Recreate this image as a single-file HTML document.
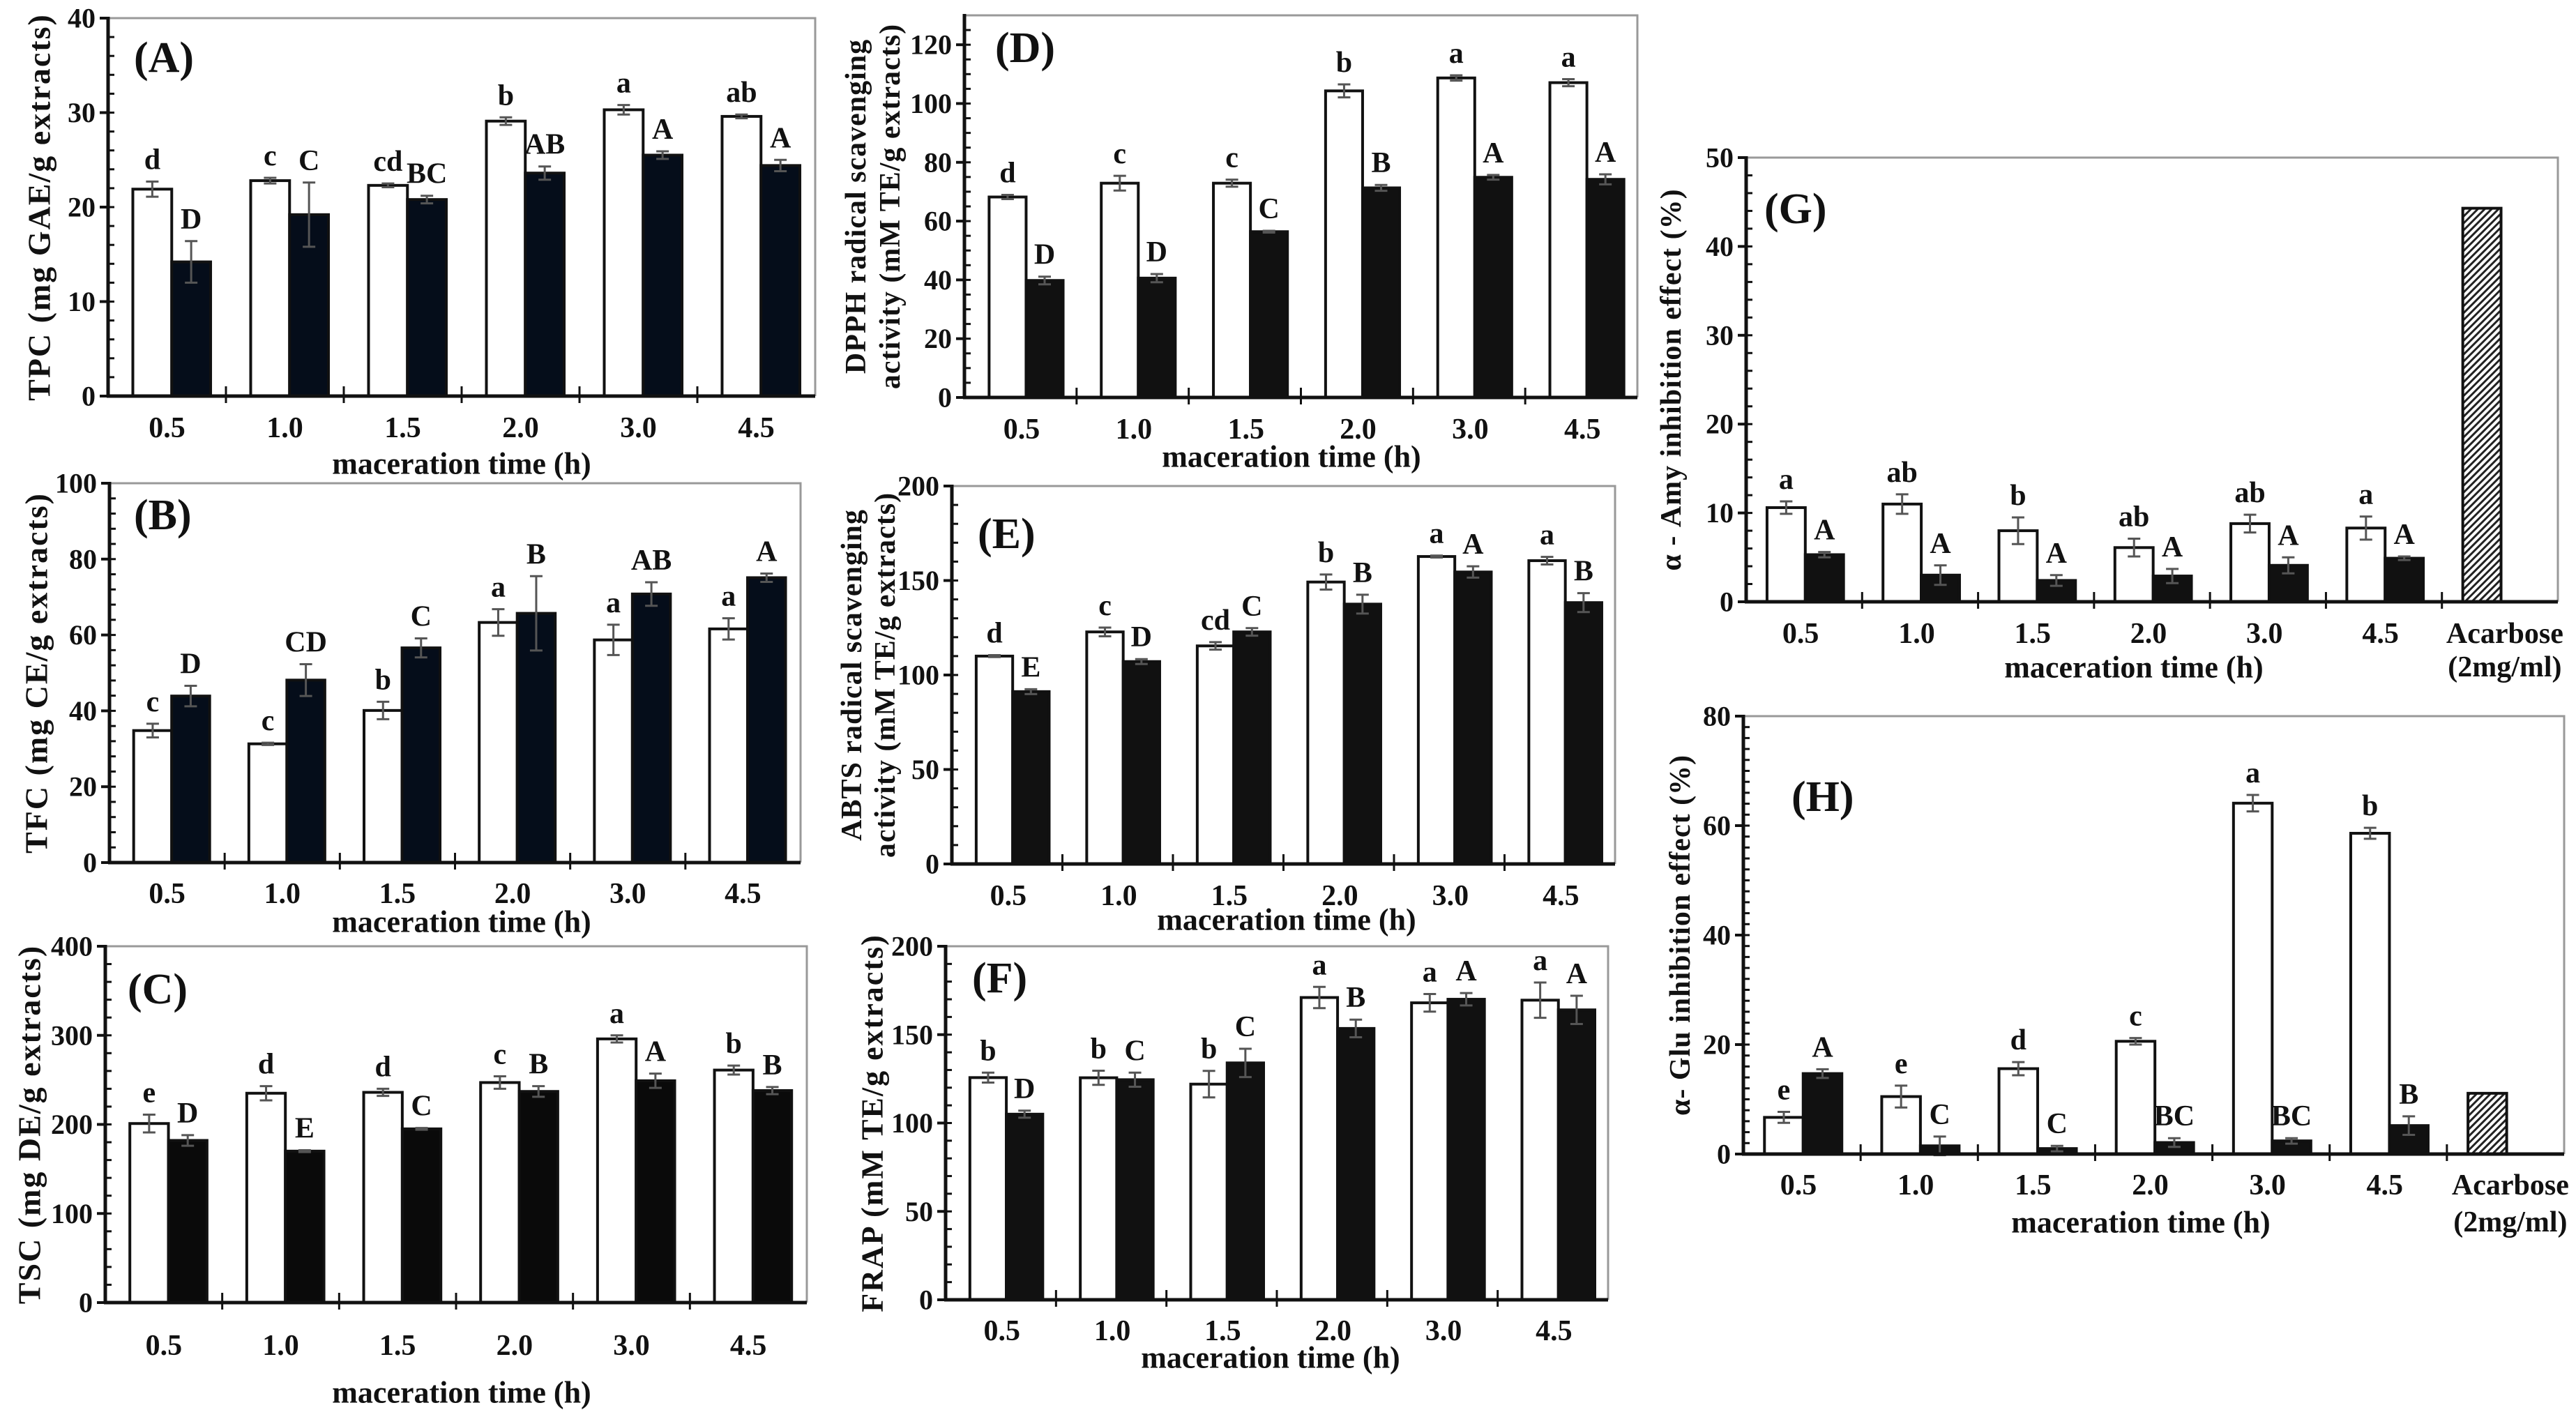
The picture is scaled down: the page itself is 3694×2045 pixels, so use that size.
<!DOCTYPE html>
<html><head><meta charset="utf-8">
<style>
html,body{margin:0;padding:0;background:#fff;}
svg{display:block;}
text{font-family:"Liberation Serif",serif;font-weight:bold;fill:#111;}
</style></head>
<body>
<svg id="fig" width="3694" height="2045" viewBox="0 0 3694 2045" xmlns="http://www.w3.org/2000/svg">
<defs>
<pattern id="hatch" patternUnits="userSpaceOnUse" width="7" height="7" patternTransform="rotate(45)">
<rect width="7" height="7" fill="#fff"/><rect width="3" height="7" fill="#222"/>
</pattern>
</defs>
</svg>
<script>
const groups = ["0.5","1.0","1.5","2.0","3.0","4.5"];
// A
const aWhite=[21.9,22.8,22.3,29.1,30.3,29.6], aWhiteErr=[0.8,0.3,0.2,0.4,0.5,0.2];
const aBlack=[14.2,19.2,20.8,23.6,25.5,24.4], aBlackErr=[2.2,3.4,0.4,0.7,0.4,0.6];
const aWL=["d","c","cd","b","a","ab"], aBL=["D","C","BC","AB","A","A"];
const aTicks=[0,10,20,30,40];
// B
const bWhite=[34.8,31.3,40.1,63.3,58.7,61.6], bWhiteErr=[1.8,0.3,2.3,3.5,4,2.8];
const bBlack=[43.9,48.1,56.6,65.7,70.8,75.1], bBlackErr=[2.7,4.2,2.5,9.8,3.1,1.1];
const bWL=["c","c","b","a","a","a"], bBL=["D","CD","C","B","AB","A"];
const bTicks=[0,20,40,60,80,100];
// C
const cWhite=[201,235,236,247,296,261], cWhiteErr=[10,8,4,7,4,5];
const cBlack=[182,170,195,237,249,238], cBlackErr=[6,1,1,6,8,4];
const cWL=["e","d","d","c","a","b"], cBL=["D","E","C","B","A","B"];
const cTicks=[0,100,200,300,400];
// D
const dWhite=[68.2,72.9,72.9,104.3,108.7,107.1], dWhiteErr=[0.7,2.5,1.2,2.2,0.9,1.2];
const dBlack=[39.8,40.6,56.4,71.3,74.9,74.2], dBlackErr=[1.3,1.4,0.3,1,0.8,1.7];
const dWL=["d","c","c","b","a","a"], dBL=["D","D","C","B","A","A"];
const dTicks=[0,20,40,60,80,100,120];
// E
const eWhite=[110,122.8,115.4,149.2,162.7,160.5], eWhiteErr=[0.5,2.3,2,4,0.5,2];
const eBlack=[91.2,107.1,122.8,137.5,154.5,138.3], eBlackErr=[1.3,1.3,2,5,3,5];
const eWL=["d","c","cd","b","a","a"], eBL=["E","D","C","B","A","B"];
const eTicks=[0,50,100,150,200];
// F
const fWhite=[125.7,125.6,122,171,168,169.5], fWhiteErr=[2.8,4,7.5,6,5,10];
const fBlack=[105,124.5,134,153.5,170,164], fBlackErr=[2,4,8,5,3.5,8];
const fWL=["b","b","b","a","a","a"], fBL=["D","C","C","B","A","A"];
const fTicks=[0,50,100,150,200];
// G
const gWhite=[10.6,11,8,6.1,8.8,8.3], gWhiteErr=[0.7,1.1,1.5,1,1,1.3];
const gBlack=[5.3,3,2.4,2.9,4.1,4.9], gBlackErr=[0.3,1.1,0.6,0.8,0.9,0.2];
const gWL=["a","ab","b","ab","ab","a"], gBL=["A","A","A","A","A","A"];
const gAcarbose=44.3;
const gTicks=[0,10,20,30,40,50];
// H
const hWhite=[6.7,10.5,15.6,20.6,64.1,58.6], hWhiteErr=[1,2,1.2,0.6,1.5,1];
const hBlack=[14.7,1.5,1,2.1,2.4,5.2], hBlackErr=[0.8,1.7,0.5,0.8,0.5,1.7];
const hWL=["e","e","d","c","a","b"], hBL=["A","C","C","BC","BC","B"];
const hAcarbose=11.1;
const hTicks=[0,20,40,60,80];

const svg=document.getElementById('fig');
const NS="http://www.w3.org/2000/svg";
function mk(tag,attrs,parent){const e=document.createElementNS(NS,tag);for(const k in attrs)e.setAttribute(k,attrs[k]);(parent||svg).appendChild(e);return e;}
function txt(s,attrs,parent){const e=mk('text',attrs,parent);e.textContent=s;return e;}

function panel(p){
  const g=mk('g',{});
  
  
  const nG=p.acarbose!==undefined?7:6;
  const gw=(p.x1-p.x0)/nG;
  const ys=v=>p.y0-(v-0)/p.ymax*(p.y0-p.y1);
  const fr=mk('polyline',{points:`${p.x0},${p.y1} ${p.x1},${p.y1} ${p.x1},${p.y0}`,fill:'none',stroke:'#999','stroke-width':3},g);
  
  
  for(let v=p.minor;v<p.ymax;v+=p.minor){mk('line',{x1:p.x0,x2:p.x0+9,y1:ys(v),y2:ys(v),stroke:'#111','stroke-width':3},g);}
  p.ticks.forEach(t=>{
    mk('line',{x1:p.x0-12,x2:p.x0,y1:ys(t),y2:ys(t),stroke:'#111','stroke-width':4},g);
    const tl=txt(String(t),{x:p.x0-18,y:ys(t),'text-anchor':'end','dominant-baseline':'central','font-size':40},g);
    
    
  });
  for(let i=1;i<nG;i++){const x=p.x0+gw*i;mk('line',{x1:x,x2:x,y1:p.y0-14,y2:p.y0+10,stroke:'#111','stroke-width':3},g);}
  const bw=gw*0.33;
  function bar(i,v,e,fill,off,letter,name){
    const x=p.x0+gw*i+gw*off;
    const r=mk('rect',{x:x,y:ys(v),width:bw,height:p.y0-ys(v),fill:fill,stroke:'#111','stroke-width':4},g);
    
    
    const cx=x+bw/2;
    let top=ys(v);
    if(e!==null){
      const t=ys(v+e),b=ys(v-e);top=t;
      mk('line',{x1:cx,x2:cx,y1:t,y2:b,stroke:'#555','stroke-width':3},g);
      mk('line',{x1:cx-9,x2:cx+9,y1:t,y2:t,stroke:'#555','stroke-width':3},g);
      mk('line',{x1:cx-9,x2:cx+9,y1:b,y2:b,stroke:'#555','stroke-width':3},g);
    }
    if(letter){
      const l=txt(letter,{x:cx,y:top-18,'text-anchor':'middle','font-size':42},g);
      
      
    }
  }
  for(let i=0;i<6;i++){
    bar(i,p.white[i],p.whiteErr[i],'#fff',p.off,p.wl[i],'bar-white-'+groups[i]);
    bar(i,p.black[i],p.blackErr[i],p.blackFill,p.off+0.33,p.bl[i],'bar-black-'+groups[i]);
  }
  if(p.acarbose!==undefined){bar(6,p.acarbose,null,'url(#hatch)',p.off,null,'bar-acarbose');}
  mk('line',{x1:p.x0,x2:p.x0,y1:p.y1-2,y2:p.y0,stroke:'#111','stroke-width':5},g);
  mk('line',{x1:p.x0-2,x2:p.x1,y1:p.y0,y2:p.y0,stroke:'#111','stroke-width':5},g);
  groups.forEach((s,i)=>{
    const l=txt(s,{x:p.x0+gw*(i+0.5)+gw*(p.off-0.21),y:p.xly,'text-anchor':'middle','dominant-baseline':'central','font-size':42},g);
    
    
  });
  if(p.acarbose!==undefined){
    const cx=p.x0+gw*6.5+gw*(p.off-0.21)+12;
    const a1=txt("Acarbose",{x:cx,y:p.xly,'text-anchor':'middle','dominant-baseline':'central','font-size':42},g);
    
    
    txt("(2mg/ml)",{x:cx,y:p.xty,'text-anchor':'middle','dominant-baseline':'central','font-size':42},g);
  }
  const xt=txt("maceration time (h)",{x:p.xtx,y:p.xty,'text-anchor':'middle','dominant-baseline':'central','font-size':44},g);
  
  
  const ycy=(p.y0+p.y1)/2+p.ytOff;
  p.ytitle.forEach((s,k)=>{
    const yt=txt(s,{x:0,y:0,'text-anchor':'middle','dominant-baseline':'central','font-size':p.ytSize,transform:`translate(${p.ytx[k]},${ycy}) rotate(-90)`,'letter-spacing':p.ls||0},g);
    
    
  });
  const pl=txt('('+p.id+')',{x:p.lx,y:p.ly,'dominant-baseline':'central','font-size':62},g);
  
  
}

panel({id:'A',x0:155,x1:1169,y0:568,y1:26,ymax:40,minor:2,ticks:aTicks,white:aWhite,whiteErr:aWhiteErr,black:aBlack,blackErr:aBlackErr,wl:aWL,bl:aBL,blackFill:'#050d1a',off:0.21,xly:614,xty:665,xtx:662,ytitle:["TPC (mg GAE/g extracts)"],ytx:[56],ytSize:46,ytOff:0,ls:2,lx:192,ly:83});
panel({id:'B',x0:157,x1:1148,y0:1237,y1:693,ymax:100,minor:4,ticks:bTicks,white:bWhite,whiteErr:bWhiteErr,black:bBlack,blackErr:bBlackErr,wl:bWL,bl:bBL,blackFill:'#050d1a',off:0.21,xly:1282,xty:1322,xtx:662,ytitle:["TFC (mg CE/g extracts)"],ytx:[52],ytSize:46,ytOff:0,ls:2,lx:192,ly:739});
panel({id:'C',x0:151,x1:1157,y0:1868,y1:1357,ymax:400,minor:20,ticks:cTicks,white:cWhite,whiteErr:cWhiteErr,black:cBlack,blackErr:cBlackErr,wl:cWL,bl:cBL,blackFill:'#0a0a0a',off:0.21,xly:1930,xty:1997,xtx:662,ytitle:["TSC (mg DE/g extracts)"],ytx:[42],ytSize:46,ytOff:0,ls:2,lx:183,ly:1419});
panel({id:'D',x0:1383,x1:2348,y0:570,y1:22,ymax:130,minor:5,ticks:dTicks,white:dWhite,whiteErr:dWhiteErr,black:dBlack,blackErr:dBlackErr,wl:dWL,bl:dBL,blackFill:'#111',off:0.22,xly:616,xty:655,xtx:1852,ytitle:["DPPH radical scavenging","activity (mM TE/g extracts)"],ytx:[1228,1277],ytSize:42,ytOff:0,ls:1,lx:1427,ly:69});
panel({id:'E',x0:1365,x1:2316,y0:1239,y1:697,ymax:200,minor:10,ticks:eTicks,white:eWhite,whiteErr:eWhiteErr,black:eBlack,blackErr:eBlackErr,wl:eWL,bl:eBL,blackFill:'#111',off:0.22,xly:1285,xty:1319,xtx:1845,ytitle:["ABTS radical scavenging","activity (mM TE/g extracts)"],ytx:[1222,1270],ytSize:42,ytOff:0,ls:1,lx:1402,ly:766});
panel({id:'F',x0:1356,x1:2306,y0:1864,y1:1357,ymax:200,minor:10,ticks:fTicks,white:fWhite,whiteErr:fWhiteErr,black:fBlack,blackErr:fBlackErr,wl:fWL,bl:fBL,blackFill:'#111',off:0.22,xly:1909,xty:1947,xtx:1822,ytitle:["FRAP (mM TE/g extracts)"],ytx:[1251],ytSize:44,ytOff:0,ls:2,lx:1394,ly:1403});
panel({id:'G',x0:2504,x1:3668,y0:863,y1:226,ymax:50,minor:2,ticks:gTicks,white:gWhite,whiteErr:gWhiteErr,black:gBlack,blackErr:gBlackErr,wl:gWL,bl:gBL,blackFill:'#111',off:0.18,acarbose:gAcarbose,xly:909,xty:957,xtx:3060,ytitle:["α - Amy inhibition effect (%)"],ytx:[2397],ytSize:42,ytOff:0,ls:1,lx:2530,ly:300});
panel({id:'H',x0:2500,x1:3677,y0:1655,y1:1027,ymax:80,minor:2,ticks:hTicks,white:hWhite,whiteErr:hWhiteErr,black:hBlack,blackErr:hBlackErr,wl:hWL,bl:hBL,blackFill:'#111',off:0.18,acarbose:hAcarbose,xly:1700,xty:1753,xtx:3070,ytitle:["α- Glu inhibition effect (%)"],ytx:[2410],ytSize:42,ytOff:0,ls:1,lx:2569,ly:1143});
</script>
</body></html>
